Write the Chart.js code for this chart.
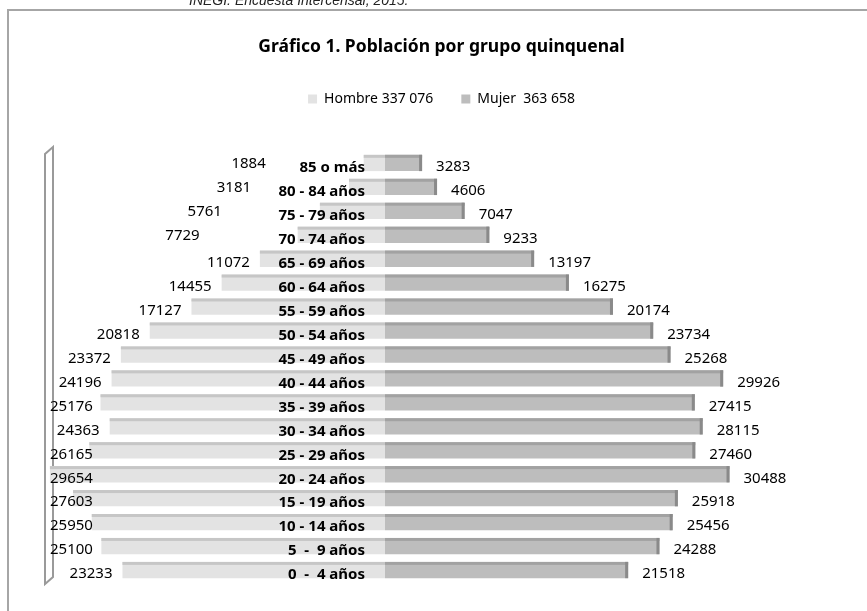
<!DOCTYPE html>
<html>
<head>
<meta charset="utf-8">
<script src="https://cdn.jsdelivr.net/npm/chart.js@4.4.1/dist/chart.umd.min.js"></script>
<style>
body { margin: 0; background: #fff; }
#wrap { position: relative; width: 867px; height: 611px; overflow: hidden; }
#fuente { position: absolute; left: 189px; top: -7px; font: italic 14px "Liberation Sans", Arial, sans-serif; line-height: 14px; color: #222; white-space: nowrap; }
</style>
</head>
<body>
<div id="wrap">
<canvas id="grafico" width="867" height="611"></canvas>
<div id="fuente">INEGI. Encuesta Intercensal, 2015.</div>
</div>
<script>
// datos (de arriba hacia abajo)
const grupos = ['85 o más', '80 - 84 años', '75 - 79 años', '70 - 74 años', '65 - 69 años',
    '60 - 64 años', '55 - 59 años', '50 - 54 años', '45 - 49 años', '40 - 44 años',
    '35 - 39 años', '30 - 34 años', '25 - 29 años', '20 - 24 años', '15 - 19 años',
    '10 - 14 años', '5  -  9 años', '0  -  4 años'];
const hombres = [1884, 3181, 5761, 7729, 11072, 14455, 17127, 20818, 23372, 24196,
    25176, 24363, 26165, 29654, 27603, 25950, 25100, 23233];
const mujeres = [3283, 4606, 7047, 9233, 13197, 16275, 20174, 23734, 25268, 29926,
    27415, 28115, 27460, 30488, 25918, 25456, 24288, 21518];
const leyenda = ['Hombre 337 076', 'Mujer  363 658'];
const titulo = 'Gráfico 1. Población por grupo quinquenal';

const colorHombre = '#e3e3e3';
const colorMujer = '#bdbdbd';

// marco, pared 3D y etiquetas
const decoracion = {
    id: 'decoracion',
    beforeInit(chart) {
        const fit = chart.legend.fit;
        chart.legend.fit = function () {
            fit.bind(chart.legend)();
            this.height += 35;
        };
    },
    beforeDraw(chart) {
        const ctx = chart.ctx;
        ctx.save();
        ctx.strokeStyle = '#a6a6a6';
        ctx.lineWidth = 2;
        ctx.beginPath();
        ctx.moveTo(8, 612);
        ctx.lineTo(8, 10);
        ctx.lineTo(868, 10);
        ctx.stroke();
        ctx.restore();
    },
    beforeDatasetsDraw(chart) {
        const ctx = chart.ctx;
        const a = chart.chartArea;
        const L = a.left;
        ctx.save();
        ctx.strokeStyle = '#9a9a9a';
        ctx.lineWidth = 2;
        ctx.beginPath();
        ctx.moveTo(L + 7, a.top - 4);
        ctx.lineTo(L - 1, a.top + 3);
        ctx.lineTo(L - 1, a.bottom + 2);
        ctx.lineTo(L + 7, a.bottom - 5);
        ctx.closePath();
        ctx.stroke();
        ctx.restore();
    },
    afterDatasetsDraw(chart) {
        const ctx = chart.ctx;
        const a = chart.chartArea;
        const x0 = chart.scales.x.getPixelForValue(0);
        ctx.save();
        // caras superiores y laterales
        chart.data.datasets.forEach((ds, i) => {
            chart.getDatasetMeta(i).data.forEach((bar) => {
                const p = bar.getProps(['x', 'y', 'base', 'height'], true);
                const left = Math.min(p.x, p.base);
                const right = Math.max(p.x, p.base);
                const top = p.y - p.height / 2;
                ctx.fillStyle = i === 0 ? '#c6c6c6' : '#a2a2a2';
                ctx.fillRect(left, top, right - left, 3);
                if (i === 1) {
                    ctx.fillStyle = '#8a8a8a';
                    ctx.fillRect(right - 3, top, 3, p.height);
                }
            });
        });
        ctx.fillStyle = '#000';
        ctx.textBaseline = 'middle';
        // valores de hombres: si chocan con el grupo de edad se corren a la izquierda
        chart.getDatasetMeta(0).data.forEach((bar, j) => {
            const p = bar.getProps(['x', 'y'], true);
            ctx.font = 'bold 15px "Noto Sans", sans-serif';
            const catLeft = x0 - 20 - ctx.measureText(grupos[j]).width;
            ctx.font = '15px "Noto Sans", sans-serif';
            const txt = String(hombres[j]);
            const w = ctx.measureText(txt).width;
            let xr = p.x - 10;
            let dy = 4;
            if (xr > catLeft - 6) {
                xr = p.x - 98;
                dy = 1;
            }
            ctx.textAlign = 'right';
            ctx.fillText(txt, Math.max(xr, a.left + 4 + w), p.y + dy);
        });
        ctx.font = '15px "Noto Sans", sans-serif';
        chart.getDatasetMeta(1).data.forEach((bar, j) => {
            const p = bar.getProps(['x', 'y'], true);
            ctx.textAlign = 'left';
            ctx.fillText(String(mujeres[j]), p.x + 14, p.y + 4);
        });
        // grupos de edad
        ctx.font = 'bold 15px "Noto Sans", sans-serif';
        ctx.textAlign = 'right';
        chart.getDatasetMeta(0).data.forEach((bar, j) => {
            ctx.fillText(grupos[j], x0 - 20, bar.y + 5);
        });
        ctx.restore();
    }
};

new Chart(document.getElementById('grafico'), {
    type: 'bar',
    data: {
        labels: grupos,
        datasets: [{
            label: leyenda[0],
            data: hombres.map(v => -v),
            backgroundColor: colorHombre,
            borderWidth: 0
        }, {
            label: leyenda[1],
            data: mujeres,
            backgroundColor: colorMujer,
            borderWidth: 0
        }]
    },
    options: {
        indexAxis: 'y',
        responsive: false,
        animation: false,
        layout: {
            padding: { left: 46, right: 30, top: 0, bottom: 29 }
        },
        datasets: {
            bar: { categoryPercentage: 1, barPercentage: 0.68 }
        },
        scales: {
            x: { stacked: true, min: -30000, max: 40000, display: false },
            y: { stacked: true, display: false }
        },
        plugins: {
            title: {
                display: true,
                text: titulo,
                color: '#000',
                font: { family: '"Noto Sans", sans-serif', size: 17.5, weight: 'bold' },
                padding: { top: 37, bottom: 6 }
            },
            legend: {
                labels: {
                    color: '#000',
                    font: { family: '"Noto Sans", sans-serif', size: 14 },
                    boxWidth: 9,
                    boxHeight: 9,
                    padding: 28
                }
            },
            tooltip: { enabled: false }
        }
    },
    plugins: [decoracion]
});
</script>
</body>
</html>
